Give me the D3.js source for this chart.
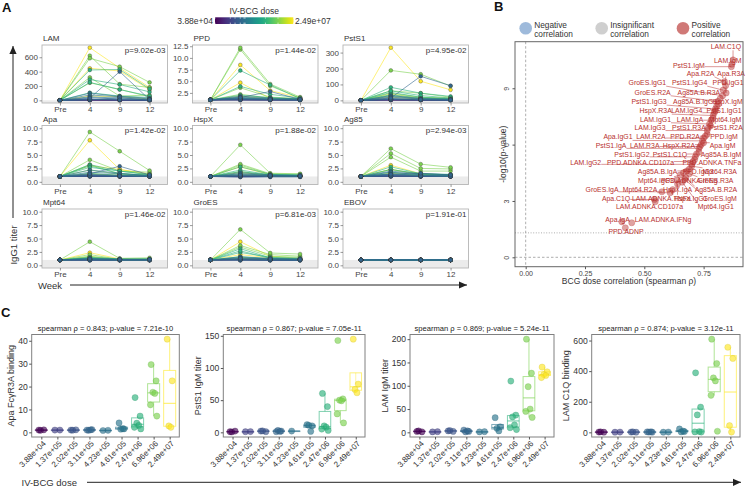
<!DOCTYPE html>
<html><head><meta charset="utf-8">
<script src="https://cdn.jsdelivr.net/npm/d3@7"></script>
<style>body{margin:0;background:#fff}</style>
</head><body>
<script>
// ================= DATA =================
const doseLabels = ["3.88e+04","1.37e+05","2.02e+05","3.11e+05","4.23e+05","4.61e+05","2.47e+06","6.96e+06","2.49e+07"];
const doseValues = [3.88e4,1.37e5,2.02e5,3.11e5,4.23e5,4.61e5,2.47e6,6.96e6,2.49e7];
const weeks = ["Pre","4","9","12"];
// dose group (index into doseValues) of each animal in panel A
const animalDose = [0,0,1,1,2,2,3,3,3,4,5,5,5,6,6,6,6,7,7,7,7,8,8,8];

const antigens = ["LAM","PPD","PstS1","Apa","HspX","Ag85","Mpt64","GroES","EBOV"];
const antigenP = ["p=9.02e-03","p=1.44e-02","p=4.95e-02","p=1.42e-02","p=1.88e-02","p=2.94e-03","p=1.46e-02","p=6.81e-03","p=1.91e-01"];
const antigenFixed10 = [false,false,false,true,true,true,true,true,true];
const antigenTicks = [[0,200,400,600],[2.5,5,7.5,10,12.5],[0,100,200,300],[0,2.5,5,7.5,10],[0,2.5,5,7.5,10],[0,2.5,5,7.5,10],[0,2.5,5,7.5,10],[0,2.5,5,7.5,10],[0,2.5,5,7.5,10]];
const antigenTickFmt = ["d",".1f","d",".1f",".1f",".1f",".1f",".1f",".1f"];

// IgG1 titer per animal: [Pre, wk4, wk9, wk12]
const titerLAM = [[0,0,0,0],[0,4,2,0],[0,2,0,0],[0,8,3,1],[0,12,5,2],[0,20,8,3],[0,30,400,10],[0,15,8,4],[0,5,40,2],[0,40,20,8],[0,50,30,15],[0,75,50,20],[0,100,55,30],[0,423,430,160],[0,250,150,60],[0,106,60,40],[0,290,220,118],[0,586,469,250],[0,622,225,180],[0,320,60,74],[0,245,153,50],[0,734,450,180],[0,446,409,150],[0,60,50,20]];
const titerPPD = [[1,1,1,1],[1,1.1,1,1],[1,0.9,0.9,0.9],[1,1.2,1.1,1],[1,1.3,1.1,1],[1,1.1,1,1],[1,1.5,2.8,1.1],[1,1.2,1.1,1],[1,1,1,1],[1,1.4,1.2,1.1],[1,1.6,1.3,1.1],[1,1.8,1.4,1.2],[1,1.3,1.1,1],[1,7.3,4.2,1.3],[1,2.0,1.5,1.2],[1,1.5,1.2,1.1],[1,3.9,2.2,1.4],[1,12.2,4.4,1.6],[1,11.8,4.0,1.4],[1,3.6,1.6,1.3],[1,2.2,1.4,1.2],[1,8.5,3.0,1.5],[1,4.7,1.3,1.2],[1,1.8,1.2,1.1]];
const titerPstS1 = [[0,0,0,0],[0,3,2,1],[0,2,1,0],[0,5,3,2],[0,8,4,2],[0,6,3,1],[0,15,151,92],[0,10,5,3],[0,4,2,1],[0,12,6,4],[0,20,8,5],[0,25,10,6],[0,30,12,8],[0,60,30,15],[0,35,15,8],[0,50,20,10],[0,82,45,25],[0,188,164,90],[0,60,45,20],[0,45,20,12],[0,30,10,8],[0,331,120,66],[0,40,15,15],[0,20,8,5]];
const titerApa = [[1,1,1,1],[1,1.1,1,1],[1,1,1,1],[1,1.2,1.1,1],[1,1.3,1.1,1],[1,1.1,1,1],[1,1.5,2.9,1.3],[1,1.2,1.1,1],[1,1,1,1],[1,1.4,1.2,1.1],[1,1.8,1.5,1.2],[1,2.2,1.6,1.1],[1,1.3,1.2,1.1],[1,2.7,2.0,1.3],[1,3.0,1.5,1.2],[1,1.6,1.2,1.1],[1,3.2,2.0,1.4],[1,9.3,5.7,2.1],[1,4.1,2.0,1.8],[1,3.2,1.5,1.3],[1,2.2,1.4,1.2],[1,7.75,2.3,1.3],[1,3.0,2.3,1.5],[1,1.5,1.2,1.1]];
const titerHspX = [[1,1,1,1],[1,1,1,1],[1,0.9,1,1],[1,1.1,1,1],[1,1.2,1.1,1],[1,1,1,1],[1,1.3,1.2,1.1],[1,1.1,1,1],[1,0.9,0.9,0.9],[1,1.2,1.1,1],[1,1.5,1.2,1.1],[1,1.7,1.3,1.2],[1,1.3,1.1,1],[1,1.9,1.3,1.2],[1,2.2,1.3,1.2],[1,1.5,1.2,1.1],[1,2.8,1.4,1.3],[1,6.9,1.6,1.5],[1,3.3,1.5,1.4],[1,3.1,1.4,1.2],[1,1.9,1.2,1.1],[1,2.8,1.3,1.2],[1,1.7,1.2,1.1],[1,1.3,1.1,1]];
const titerAg85 = [[1,1,1,1],[1,1.1,1,1],[1,1,1,1],[1,1.2,1.1,1],[1,1.3,1.1,1.1],[1,1.1,1,1],[1,1.4,1.6,1.3],[1,1.2,1.1,1],[1,1,1,1],[1,1.5,1.2,1.1],[1,1.8,1.3,1.2],[1,2.0,1.5,1.3],[1,1.4,1.2,1.1],[1,1.8,1.3,1.2],[1,2.3,1.5,1.3],[1,1.5,1.2,1.1],[1,2.8,1.5,1.4],[1,6.2,3.3,2.7],[1,5.3,2.5,2.4],[1,4.6,2.0,2.0],[1,2.3,1.4,1.3],[1,3.1,1.5,1.2],[1,2.3,1.4,1.3],[1,1.6,1.2,1.1]];
const titerMpt64 = [[1,1,1,1],[1,1,1,1],[1,1,1,1],[1,1.1,1,1],[1,1.1,1,1],[1,1,1,1],[1,1.2,1.1,1.1],[1,1,1,1],[1,0.9,0.9,0.9],[1,1.1,1,1],[1,1.2,1.1,1.1],[1,1.3,1.1,1.1],[1,1.1,1,1],[1,1.3,1.1,1.1],[1,1.5,1.2,1.2],[1,1.2,1,1],[1,1.4,1.1,1.1],[1,4.4,1.3,1.4],[1,2.0,1.1,1.2],[1,1.7,1.1,1.1],[1,1.4,1.1,1.1],[1,2.35,1.2,1.1],[1,1.6,1.1,1.1],[1,1.2,1,1]];
const titerGroES = [[1,1,1,1],[1,1.1,1,1],[1,1,1,1],[1,1.1,1,1],[1,1.2,1.1,1],[1,1,1,1],[1,1.3,1.2,1.1],[1,1.1,1,1],[1,0.9,0.9,0.9],[1,1.2,1.1,1],[1,1.4,1.2,1.1],[1,1.6,1.3,1.2],[1,1.2,1.1,1],[1,2.7,1.3,1.2],[1,2.4,1.5,1.3],[1,1.6,1.2,1.1],[1,3.1,1.4,1.3],[1,6.7,2.3,2.1],[1,3.7,2.0,1.7],[1,3.4,1.7,1.5],[1,1.5,1.2,1.1],[1,4.4,1.7,1.3],[1,2.0,1.4,1.2],[1,1.3,1.1,1.1]];
const titerEBOV = animalDose.map(() => [1,1,1,1]);
const antigenTiters = [titerLAM,titerPPD,titerPstS1,titerApa,titerHspX,titerAg85,titerMpt64,titerGroES,titerEBOV];
// order in which animals are drawn (later = on top)
const drawOrder = [0,1,2,3,4,5,23,22,21,20,19,18,17,16,15,14,13,12,11,10,9,8,7,6];

// Panel B: features, spearman rho, -log10(p)
const bNames = ["LAM.C1Q","LAM.IgM","PstS1.IgM","Apa.R2A","Apa.R3A","GroES.IgG1","PstS1.IgG4","PPD.IgG1","GroES.R2A","Ag85A.B.R3A","PstS1.IgG3","Ag85A.B.IgG1","HspX.IgM","HspX.R3A","LAM.IgG4","PstS1.IgG1","LAM.IgG1","LAM.IgA","Mpt64.IgM","LAM.IgG3","PstS1.R3A","PstS1.R2A","Apa.IgG1","LAM.R2A","PPD.R2A","PPD.IgM","PstS1.IgA","LAM.R3A","HspX.R2A","Apa.IgM","PstS1.IgG2","PstS1.C1Q","Ag85A.B.IgM","LAM.IgG2","PPD.ADNKA.CD107a","PPD.ADNKA.TNFa","Ag85A.B.IgA","PPD.IgG3","Mpt64.R3A","Mpt64.IgG3","PPD.ADNKA.IFNg","GroES.R3A","GroES.IgA","Mpt64.R2A","HspX.IgA","Ag85A.B.R2A","Apa.C1Q","LAM.ADNKA.TNFa","HspX.IgG1","GroES.IgM","LAM.ADNKA.CD107a","Mpt64.IgG1","Apa.IgA","LAM.ADNKA.IFNg","PPD.ADNP"];
const bRho = [0.874,0.869,0.867,0.838,0.843,0.83,0.832,0.845,0.81,0.82,0.80,0.805,0.812,0.79,0.795,0.80,0.775,0.782,0.79,0.765,0.77,0.78,0.745,0.75,0.757,0.765,0.73,0.735,0.74,0.75,0.715,0.72,0.73,0.70,0.705,0.712,0.68,0.69,0.70,0.651,0.665,0.69,0.574,0.609,0.637,0.675,0.543,0.62,0.64,0.67,0.546,0.66,0.405,0.447,0.42];
const bLogP = [10.51,10.28,10.15,9.35,9.14,8.6,8.9,8.75,8.3,8.45,7.9,8.05,8.15,7.55,7.7,7.8,7.1,7.3,7.4,6.75,6.9,7.0,6.2,6.35,6.45,6.55,5.8,5.9,6.0,6.1,5.35,5.5,5.6,4.95,5.1,5.2,4.6,4.7,4.85,4.38,4.5,4.45,3.49,3.44,4.11,4.25,3.08,3.6,3.9,4.15,2.96,4.0,1.89,1.84,1.57];
// repelled label anchors (in data units)
const bLabelRho = [0.844,0.852,0.688,0.737,0.866,0.513,0.691,0.853,0.535,0.730,0.520,0.714,0.851,0.548,0.679,0.836,0.547,0.693,0.840,0.524,0.688,0.844,0.389,0.528,0.672,0.836,0.360,0.502,0.646,0.830,0.448,0.608,0.823,0.253,0.484,0.785,0.556,0.727,0.818,0.549,0.690,0.800,0.322,0.482,0.640,0.802,0.381,0.572,0.695,0.818,0.522,0.801,0.387,0.579,0.423];
const bLabelLogP = [11.21,10.50,10.20,9.80,9.80,9.30,9.30,9.30,8.79,8.79,8.29,8.29,8.29,7.81,7.81,7.81,7.35,7.35,7.35,6.90,6.90,6.90,6.41,6.41,6.41,6.41,5.94,5.94,5.94,5.94,5.48,5.48,5.48,5.04,5.04,5.04,4.58,4.58,4.58,4.10,4.10,4.10,3.59,3.59,3.59,3.59,3.14,3.14,3.14,3.14,2.69,2.69,2.02,2.02,1.36];
const bXTicks = [0,0.25,0.5,0.75];
const bYTicks = [0,3,6,9];

// Panel C: values per dose group
const cApaR3A = [[1.0,1.1,0.9],[1.0,1.0],[1.0,1.1,0.95],[1.0,1.2,0.9,1.1],[0.8,0.9],[4.1,1.5,1.4,1.6],[15.2,7.1,4.0,3.0,2.2,1.5],[29.6,22.5,17.5,17.0,12.0,7.1],[40.7,22.5,2.8,2.2]];
const cPstS1IgM = [[1,2,0.5],[1,1.2],[2,1,2.2],[1,2,3,1.5],[2],[12,10,11,1.5],[60.4,40,10,8,5,3],[142.7,52,50,49,28.6,14.6],[144.8,75,66.7,61.5]];
const cLAMIgM = [[2,1,3],[1,1.5],[3,2,4],[5,2,1,3],[1,1.5],[31.5,12,8.6,3],[110,37,33,16,10,6],[200,127,98,50,45,32],[140,130,124,122,117.6]];
const cLAMC1Q = [[2,1,3],[1,2],[2,1,3],[3,1,2,4],[1,2],[22,5,3,8],[389,165,114,5,3,2],[609,450,356,336,242,7],[556,483,44,2]];
const cTitles = ["spearman ρ = 0.843; p-value = 7.21e-10","spearman ρ = 0.867; p-value = 7.05e-11","spearman ρ = 0.869; p-value = 5.24e-11","spearman ρ = 0.874; p-value = 3.12e-11"];
const cYLabels = ["Apa FcγR3A binding","PstS1 IgM titer","LAM IgM titer","LAM C1Q binding"];
const cTicks = [[0,10,20,30,40],[0,50,100,150],[0,50,100,150,200],[0,200,400,600]];
const cData = [cApaR3A,cPstS1IgM,cLAMIgM,cLAMC1Q];

// ================= DRAW =================
const FONT = "'Liberation Sans', Arial, Helvetica, sans-serif";
const svg = d3.select("body").append("svg").attr("width",747).attr("height",488)
  .style("font-family",FONT).style("display","block");
const lmin = Math.log10(doseValues[0]), lmax = Math.log10(doseValues[doseValues.length-1]);
const doseT = i => (Math.log10(doseValues[i]) - lmin)/(lmax - lmin);
const doseColor = i => d3.interpolateViridis(doseT(i));

function arrow(x1,y1,x2,y2,head){
  svg.append("line").attr("x1",x1).attr("y1",y1).attr("x2",x2).attr("y2",y2).attr("stroke","#222").attr("stroke-width",1);
  const a = Math.atan2(y2-y1,x2-x1), L=head||9, Wd=3.6;
  const bx = x2 - L*Math.cos(a), by = y2 - L*Math.sin(a);
  const px = -Math.sin(a)*Wd, py = Math.cos(a)*Wd;
  svg.append("path").attr("d",`M${x2},${y2}L${bx+px},${by+py}L${bx-px},${by-py}Z`).attr("fill","#222");
}
function panelLetter(t,x,y){
  svg.append("text").attr("x",x).attr("y",y).text(t).attr("font-size",13).attr("font-weight","bold").attr("fill","#111");
}

// ---------- Panel A ----------
panelLetter("A",2,12);
{
  const x0=215, x1=293.5, y0=17.3, y1=24;
  const defs = svg.append("defs");
  const grad = defs.append("linearGradient").attr("id","vir");
  d3.range(0,1.0001,0.05).forEach(t=>grad.append("stop").attr("offset",t).attr("stop-color",d3.interpolateViridis(t)));
  svg.append("rect").attr("x",x0).attr("y",y0).attr("width",x1-x0).attr("height",y1-y0).attr("fill","url(#vir)");
  const cb = d3.scaleLinear().domain([0,1]).range([x0,x1]);
  doseValues.forEach((d,i)=>{
    const xx = cb(doseT(i));
    svg.append("line").attr("x1",xx).attr("x2",xx).attr("y1",y0).attr("y2",y0+1.4).attr("stroke","#fff").attr("stroke-width",0.6);
    svg.append("line").attr("x1",xx).attr("x2",xx).attr("y1",y1-1.4).attr("y2",y1).attr("stroke","#fff").attr("stroke-width",0.6);
  });
  svg.append("text").attr("x",(x0+x1)/2).attr("y",13.5).attr("text-anchor","middle").attr("font-size",8.5).attr("fill","#333").text("IV-BCG dose");
  svg.append("text").attr("x",x0-2).attr("y",23.7).attr("text-anchor","end").attr("font-size",8.5).attr("fill","#333").text(doseLabels[0]);
  svg.append("text").attr("x",x1+1.5).attr("y",23.7).attr("font-size",8.5).attr("fill","#333").text(doseLabels[doseLabels.length-1]);
}
const colsA=[42,192.5,343], rowsA=[45,125.5,209], wA=125.5, hA=[58,59,59];
antigens.forEach((name,k)=>{
  const left = colsA[k%3], top = rowsA[Math.floor(k/3)], h = hA[Math.floor(k/3)];
  const rows = antigenTiters[k];
  let ext = d3.extent(rows.flat());
  if (antigenFixed10[k]) ext = [0,10];
  const pad = (ext[1]-ext[0])*0.05;
  const x = d3.scalePoint().domain(weeks).range([left,left+wA]).padding(0.6);
  const y = d3.scaleLinear().domain([ext[0]-pad, ext[1]+pad]).range([top+h, top]);
  const g = svg.append("g");
  g.append("rect").attr("x",left).attr("y",y(1)).attr("width",wA).attr("height",top+h-y(1)).attr("fill","#ebebeb");
  const line = d3.line().x((d,i)=>x(weeks[i])).y(d=>y(d));
  drawOrder.forEach(a=>{
    g.append("path").attr("d",line(rows[a])).attr("fill","none")
      .attr("stroke",doseColor(animalDose[a])).attr("stroke-width",0.75).attr("stroke-opacity",0.8);
  });
  drawOrder.forEach(a=>{
    rows[a].forEach((v,i)=>{
      g.append("circle").attr("cx",x(weeks[i])).attr("cy",y(v)).attr("r",1.9)
        .attr("fill",doseColor(animalDose[a])).attr("stroke","#333").attr("stroke-width",0.35);
    });
  });
  g.append("rect").attr("x",left).attr("y",top).attr("width",wA).attr("height",h)
    .attr("fill","none").attr("stroke","#b5b5b5").attr("stroke-width",0.9);
  const ya = d3.axisLeft(y).tickValues(antigenTicks[k]).tickFormat(d3.format(antigenTickFmt[k])).tickSize(2.5).tickPadding(1.5);
  const yg = g.append("g").attr("transform",`translate(${left},0)`).call(ya);
  yg.select(".domain").remove();
  yg.selectAll("line").attr("stroke","#555").attr("stroke-width",0.6);
  yg.selectAll("text").attr("font-size",8).attr("fill","#444").attr("font-family",FONT);
  const xa = d3.axisBottom(x).tickSize(2.5).tickPadding(1.2);
  const xg = g.append("g").attr("transform",`translate(0,${top+h})`).call(xa);
  xg.select(".domain").remove();
  xg.selectAll("line").attr("stroke","#555").attr("stroke-width",0.6);
  xg.selectAll("text").attr("font-size",8).attr("fill","#444").attr("font-family",FONT);
  g.append("text").attr("x",left+1).attr("y",top-4).attr("font-size",8).attr("fill","#333").text(name);
  g.append("text").attr("x",left+wA-2).attr("y",top+7.5).attr("text-anchor","end").attr("font-size",8).attr("fill","#333").text(antigenP[k]);
});
arrow(13,218,13,46,8);
svg.append("text").attr("transform","translate(16.5,245) rotate(-90)").attr("text-anchor","middle").attr("font-size",9.5).attr("fill","#333").text("IgG1 titer");
svg.append("text").attr("x",38).attr("y",288.5).attr("font-size",9.5).attr("fill","#333").text("Week");
arrow(70,285,467,285,8);

// ---------- Panel B ----------
panelLetter("B",494,11);
{
  const L=515,R=743,T=41.7,Bt=266.7;
  const x = d3.scaleLinear().domain([-0.045,0.916]).range([L,R]);
  const y = d3.scaleLinear().domain([-0.5,11.48]).range([Bt,T]);
  const g = svg.append("g");
  g.append("line").attr("x1",x(0)).attr("x2",x(0)).attr("y1",T).attr("y2",Bt).attr("stroke","#999").attr("stroke-width",0.8).attr("stroke-dasharray","2.5,2");
  g.append("line").attr("x1",L).attr("x2",R).attr("y1",y(0)).attr("y2",y(0)).attr("stroke","#999").attr("stroke-width",0.8).attr("stroke-dasharray","2.5,2");
  g.append("line").attr("x1",L).attr("x2",R).attr("y1",y(-Math.log10(0.05))).attr("y2",y(-Math.log10(0.05))).attr("stroke","#999").attr("stroke-width",0.8).attr("stroke-dasharray","1,1.6");
  const red = "#b8302e";
  bNames.forEach((n,i)=>{
    g.append("circle").attr("cx",x(bRho[i])).attr("cy",y(bLogP[i])).attr("r",3.1)
      .attr("fill",red).attr("fill-opacity",0.45).attr("stroke",red).attr("stroke-opacity",0.5).attr("stroke-width",0.5);
  });
  const segG = g.append("g"), labG = g.append("g");
  bNames.forEach((n,i)=>{
    const cx = x(bLabelRho[i]), cy = y(bLabelLogP[i]);
    const t = labG.append("text").attr("x",cx).attr("y",cy).attr("dy","0.35em").attr("text-anchor","middle")
      .attr("font-size",6.9).attr("fill",red).text(n);
    const w = t.node().getComputedTextLength();
    const px = x(bRho[i]), py = y(bLogP[i]);
    const nx = Math.max(cx-w/2, Math.min(px, cx+w/2)), ny = Math.max(cy-3.5, Math.min(py, cy+3.5));
    if (Math.hypot(px-nx,py-ny) > 3) {
      segG.append("line").attr("x1",px).attr("y1",py).attr("x2",nx).attr("y2",ny).attr("stroke",red).attr("stroke-width",0.5);
    }
  });
  g.append("rect").attr("x",L).attr("y",T).attr("width",R-L).attr("height",Bt-T).attr("fill","none").attr("stroke","#666").attr("stroke-width",1);
  const xg = g.append("g").attr("transform",`translate(0,${Bt})`).call(d3.axisBottom(x).tickValues(bXTicks).tickFormat(d3.format(".2f")).tickSize(2.5).tickPadding(1.5));
  xg.select(".domain").remove();
  xg.selectAll("line").attr("stroke","#555");
  xg.selectAll("text").attr("font-size",7).attr("fill","#444").attr("font-family",FONT);
  const yg = g.append("g").attr("transform",`translate(${L},0)`).call(d3.axisLeft(y).tickValues(bYTicks).tickSize(2.5).tickPadding(1.5));
  yg.select(".domain").remove();
  yg.selectAll("line").attr("stroke","#555");
  yg.selectAll("text").attr("font-size",7).attr("fill","#444").attr("font-family",FONT)
    .attr("text-anchor","middle").attr("x",null).attr("dy",null)
    .attr("transform","translate(-6,0) rotate(-90)");
  g.append("text").attr("x",(L+R)/2).attr("y",284).attr("text-anchor","middle").attr("font-size",8.5).attr("fill","#333").text("BCG dose correlation (spearman ρ)");
  g.append("text").attr("transform",`translate(506,${(T+Bt)/2}) rotate(-90)`).attr("text-anchor","middle").attr("font-size",8.5).attr("fill","#333").text("-log10(p-value)");
  const leg = [["#7ea3cf",0.75,"Negative","correlation",525.7],["#cfcfcf",1,"Insignificant","correlation",601.7],["#c8615f",0.85,"Positive","correlation",683]];
  leg.forEach(l=>{
    g.append("circle").attr("cx",l[4]).attr("cy",28.3).attr("r",6.3).attr("fill",l[0]).attr("fill-opacity",l[1]);
    g.append("text").attr("x",l[4]+8.5).attr("y",28).attr("font-size",8.3).attr("fill","#333").text(l[2]);
    g.append("text").attr("x",l[4]+8.5).attr("y",37.4).attr("font-size",8.3).attr("fill","#333").text(l[3]);
  });
}

// ---------- Panel C ----------
panelLetter("C",1,317);
const cBoxes = [[31.7,179.3],[223.3,365],[410,554],[591.7,740]];
const cTop = 334.5, cBot = 437;
const jitter = [-2.5,2.5,-0.8,1.2,-3.2,3.2,0];
cData.forEach((groups,p)=>{
  const [L,R] = cBoxes[p];
  const g = svg.append("g");
  const x = d3.scalePoint().domain(doseLabels).range([L,R]).padding(0.6);
  const all = groups.flat();
  const ext = [Math.min(0,d3.min(all)), d3.max(all)];
  const pad = (ext[1]-ext[0])*0.05;
  const y = d3.scaleLinear().domain([ext[0]-pad, ext[1]+pad]).range([cBot,cTop]);
  const bw = x.step()*0.75;
  groups.forEach((vals,i)=>{
    const s = vals.slice().sort(d3.ascending);
    const q1 = d3.quantile(s,0.25), med = d3.quantile(s,0.5), q3 = d3.quantile(s,0.75);
    const iqr = q3-q1;
    const lo = d3.min(s.filter(v=>v>=q1-1.5*iqr)), hi = d3.max(s.filter(v=>v<=q3+1.5*iqr));
    const cx = x(doseLabels[i]), col = doseColor(i);
    const bg = g.append("g").attr("stroke",col).attr("stroke-opacity",0.6).attr("stroke-width",1);
    bg.append("line").attr("x1",cx).attr("x2",cx).attr("y1",y(hi)).attr("y2",y(q3));
    bg.append("line").attr("x1",cx).attr("x2",cx).attr("y1",y(q1)).attr("y2",y(lo));
    bg.append("rect").attr("x",cx-bw/2).attr("width",bw).attr("y",y(q3)).attr("height",Math.max(0.5,y(q1)-y(q3))).attr("fill","#fff").attr("fill-opacity",0.3);
    bg.append("line").attr("x1",cx-bw/2).attr("x2",cx+bw/2).attr("y1",y(med)).attr("y2",y(med)).attr("stroke-width",1.2);
    vals.forEach((v,j)=>{
      g.append("circle").attr("cx",cx+jitter[j%jitter.length]).attr("cy",y(v)).attr("r",3.1)
        .attr("fill",col).attr("fill-opacity",0.65).attr("stroke",d3.color(col).darker(0.6)).attr("stroke-opacity",0.5).attr("stroke-width",0.5);
    });
  });
  g.append("rect").attr("x",L).attr("y",cTop).attr("width",R-L).attr("height",cBot-cTop).attr("fill","none").attr("stroke","#808080").attr("stroke-width",1);
  const yg = g.append("g").attr("transform",`translate(${L},0)`).call(d3.axisLeft(y).tickValues(cTicks[p]).tickSize(2.5).tickPadding(1.5));
  yg.select(".domain").remove();
  yg.selectAll("line").attr("stroke","#555");
  const yt = yg.selectAll("text").attr("font-size",8.6).attr("fill","#333").attr("font-family",FONT);
  let maxW = 0; yt.each(function(){ maxW = Math.max(maxW, this.getComputedTextLength()); });
  const xg = g.append("g").attr("transform",`translate(0,${cBot})`).call(d3.axisBottom(x).tickSize(2.5).tickPadding(1));
  xg.select(".domain").remove();
  xg.selectAll("line").attr("stroke","#555");
  xg.selectAll("text").attr("font-size",8).attr("fill","#333").attr("font-family",FONT)
    .attr("text-anchor","end").attr("y",null).attr("dy",null)
    .attr("transform","translate(3,5.5) rotate(-45)").attr("dominant-baseline","middle");
  g.append("text").attr("x",(L+R)/2).attr("y",cTop-3.5).attr("text-anchor","middle").attr("font-size",7.6).attr("fill","#222").text(cTitles[p]);
  const titleX = L - 4 - maxW - 2 - 4.5;
  g.append("text").attr("transform",`translate(${titleX},${(cTop+cBot)/2}) rotate(-90)`).attr("text-anchor","middle")
    .attr("dominant-baseline","middle").attr("font-size",9).attr("fill","#333").text(cYLabels[p]);
});
svg.append("text").attr("x",21.5).attr("y",485.5).attr("font-size",9.5).attr("fill","#333").text("IV-BCG dose");
arrow(87,482.3,741,482.3,8);
</script>
</body></html>
